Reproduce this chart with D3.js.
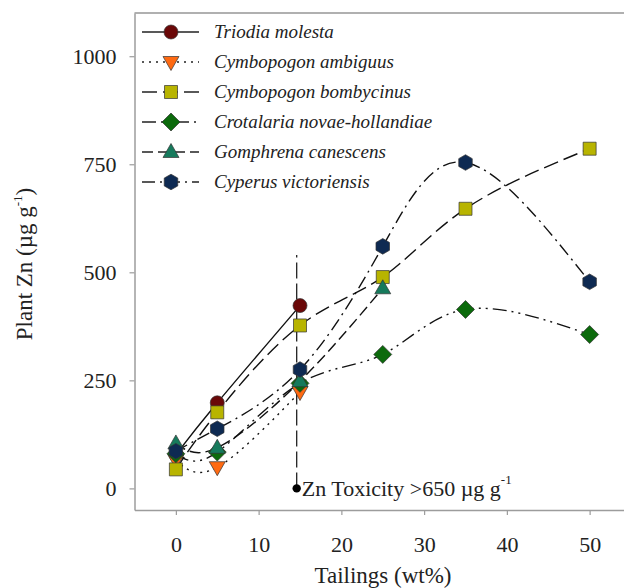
<!DOCTYPE html>
<html>
<head>
<meta charset="utf-8">
<script src="https://cdn.jsdelivr.net/npm/d3@7"></script>
<style>
  html, body { margin: 0; padding: 0; background: #fff; }
  svg { display: block; }
  text { font-family: "Liberation Serif", "Times New Roman", serif; fill: #222; }
</style>
</head>
<body>
<svg id="chart" width="624" height="588"></svg>
<script>
// ---- data ----
const xTicks = [0, 10, 20, 30, 40, 50];
const yTicks = [0, 250, 500, 750, 1000];

const seriesNames = [
  "Triodia molesta",
  "Cymbopogon ambiguus",
  "Cymbopogon bombycinus",
  "Crotalaria novae-hollandiae",
  "Gomphrena canescens",
  "Cyperus victoriensis"
];
const triodiaX = [0, 5, 15];
const triodiaY = [78, 198, 423];
const ambiguusX = [0, 5, 15];
const ambiguusY = [65, 49, 223];
const bombycinusX = [0, 5, 15, 25, 35, 50];
const bombycinusY = [44, 176, 377, 489, 647, 786];
const crotalariaX = [0, 5, 15, 25, 35, 50];
const crotalariaY = [80, 84, 243, 310, 414, 356];
const gomphrenaX = [0, 5, 15, 25];
const gomphrenaY = [104, 94, 248, 463];
const cyperusX = [0, 5, 15, 25, 35, 50];
const cyperusY = [86, 138, 275, 560, 754, 478];

const toxicityX = 14.6;
const toxicityTop = 540;
const toxicityLabel = "Zn Toxicity >650 µg g";

// ---- styles ----
const fills = ["#6a0808", "#ff6a12", "#b8b400", "#0c6a0c", "#167a5c", "#0e2a52"];
const dashes = [null, "2,5", "15,6", "14,5,2,5,2,5", "11,5", "13,5,2,5"];
const shapes = ["circle", "tridown", "square", "diamond", "triup", "hexagon"];

const xData = [triodiaX, ambiguusX, bombycinusX, crotalariaX, gomphrenaX, cyperusX];
const yData = [triodiaY, ambiguusY, bombycinusY, crotalariaY, gomphrenaY, cyperusY];
const series = seriesNames.map((name, i) => ({
  name, fill: fills[i], dash: dashes[i], shape: shapes[i],
  points: xData[i].map((x, j) => ({ x, y: yData[i][j] }))
}));

// ---- layout ----
const L = 134.5, R = 631, T = 13, B = 510;
const svg = d3.select("#chart");
const x = d3.scaleLinear().domain([-5, 55]).range([L, R]);
const y = d3.scaleLinear().domain([-50, 1100]).range([B, T]);

function shapePath(shape) {
  const p = d3.path();
  if (shape === "circle") { p.arc(0, 0, 7, 0, 2 * Math.PI); p.closePath(); }
  else if (shape === "square") { p.rect(-6.5, -6.5, 13, 13); }
  else if (shape === "diamond") { p.moveTo(0, -9); p.lineTo(9, 0); p.lineTo(0, 9); p.lineTo(-9, 0); p.closePath(); }
  else if (shape === "triup") { p.moveTo(0, -8.5); p.lineTo(8, 5.5); p.lineTo(-8, 5.5); p.closePath(); }
  else if (shape === "tridown") { p.moveTo(0, 8.5); p.lineTo(8, -5.5); p.lineTo(-8, -5.5); p.closePath(); }
  else if (shape === "hexagon") {
    for (let k = 0; k < 6; k++) {
      const a = Math.PI / 2 + k * Math.PI / 3;
      const px = 7.8 * Math.cos(a), py = 7.8 * Math.sin(a);
      if (k === 0) p.moveTo(px, py); else p.lineTo(px, py);
    }
    p.closePath();
  }
  return p.toString();
}

// ---- frame ----
svg.append("line").attr("x1", L).attr("x2", 624).attr("y1", T).attr("y2", T)
  .attr("stroke", "#b0b0b0").attr("stroke-width", 2);

const yAxis = svg.append("g").attr("transform", `translate(${L},0)`)
  .call(d3.axisLeft(y).tickValues(yTicks).tickFormat(d3.format("d"))
    .tickSize(5).tickSizeOuter(0).tickPadding(13));
const xAxis = svg.append("g").attr("transform", `translate(0,${B})`)
  .call(d3.axisBottom(x).tickValues(xTicks).tickFormat(d3.format("d"))
    .tickSize(5).tickSizeOuter(0).tickPadding(21));
[yAxis, xAxis].forEach(g => {
  g.attr("font-family", null);
  g.select(".domain").attr("stroke", "#9c9c9c").attr("stroke-width", 1.5);
  g.selectAll(".tick line").attr("stroke", "#9c9c9c").attr("stroke-width", 1.2);
  g.selectAll(".tick text").attr("font-size", 22)
    .attr("font-family", "'Liberation Serif', 'Times New Roman', serif").attr("fill", "#222");
});

// axis titles
svg.append("text").attr("x", 383).attr("y", 583).attr("text-anchor", "middle")
  .attr("font-size", 23).text("Tailings (wt%)");
const yt = svg.append("text").attr("transform", "translate(32,264) rotate(-90)")
  .attr("text-anchor", "middle").attr("font-size", 23);
yt.append("tspan").text("Plant Zn (µg g");
yt.append("tspan").attr("font-size", 13).attr("dy", -10).text("-1");
yt.append("tspan").attr("dy", 10).text(")");

// ---- toxicity line ----
svg.append("line").attr("x1", x(toxicityX)).attr("x2", x(toxicityX))
  .attr("y1", y(0)).attr("y2", y(toxicityTop))
  .attr("stroke", "#222").attr("stroke-width", 1.3).attr("stroke-dasharray", "16,5");
svg.append("circle").attr("cx", x(toxicityX)).attr("cy", y(0)).attr("r", 4.2).attr("fill", "#000");
const tt = svg.append("text").attr("x", x(toxicityX) + 5).attr("y", y(0) + 8).attr("font-size", 22);
tt.append("tspan").text(toxicityLabel);
tt.append("tspan").attr("font-size", 13).attr("dy", -12).text("-1");

// ---- series lines ----
const line = d3.line().x(d => x(d.x)).y(d => y(d.y)).curve(d3.curveNatural);
series.forEach(s => {
  svg.append("path").datum(s.points).attr("d", line)
    .attr("fill", "none").attr("stroke", "#111").attr("stroke-width", 1.4)
    .attr("stroke-dasharray", s.dash);
});
// markers
series.forEach(s => {
  svg.selectAll(null).data(s.points).enter().append("path")
    .attr("d", shapePath(s.shape))
    .attr("transform", d => `translate(${x(d.x)},${y(d.y)})`)
    .attr("fill", s.fill).attr("stroke", "#333").attr("stroke-width", 0.7);
});

// ---- legend ----
series.forEach((s, i) => {
  const ly = 32 + i * 30;
  svg.append("line").attr("x1", 142).attr("x2", 199).attr("y1", ly).attr("y2", ly)
    .attr("stroke", "#222").attr("stroke-width", 1.4).attr("stroke-dasharray", s.dash);
  svg.append("path").attr("d", shapePath(s.shape)).attr("transform", `translate(171,${ly})`)
    .attr("fill", s.fill).attr("stroke", "#333").attr("stroke-width", 0.7);
  svg.append("text").attr("x", 214).attr("y", ly + 6).attr("font-size", 19)
    .attr("font-style", "italic").text(s.name);
});
</script>
</body>
</html>
